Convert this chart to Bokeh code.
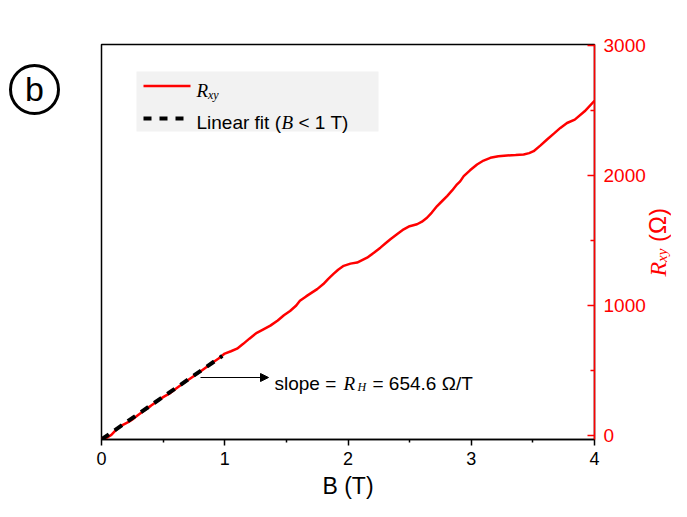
import numpy as np
from bokeh.plotting import figure
from bokeh.layouts import row
from bokeh.models import (Range1d, FixedTicker, Label, Arrow, NormalHead,
                          BoxAnnotation, Div)
from bokeh.embed import file_html
from bokeh.resources import INLINE

# ---------------- data ----------------
B_T = [0.00, 0.04, 0.08, 0.12, 0.17, 0.22, 0.26, 0.30, 0.35, 0.40, 0.45, 0.50,
       0.55, 0.60, 0.65, 0.70, 0.75, 0.80, 0.85, 0.90, 0.95, 1.00, 1.05, 1.10,
       1.15, 1.20, 1.26, 1.31, 1.37, 1.43, 1.48, 1.53, 1.58, 1.61, 1.66, 1.70,
       1.75, 1.80, 1.84, 1.88, 1.92, 1.965, 2.02, 2.074, 2.155, 2.21, 2.263,
       2.30, 2.344, 2.40, 2.452, 2.50, 2.56, 2.60, 2.641, 2.68, 2.723, 2.76,
       2.804, 2.845, 2.885, 2.91, 2.939, 2.99, 3.047, 3.10, 3.155, 3.22, 3.29,
       3.36, 3.425, 3.47, 3.506, 3.56, 3.615, 3.67, 3.723, 3.777, 3.84, 3.92,
       4.00]
R_xy = [-22, -18, 5, 45, 80, 105, 130, 160, 195, 228, 262, 295,
        322, 358, 392, 425, 458, 490, 525, 560, 592, 630, 648, 668,
        705, 745, 790, 815, 845, 885, 925, 958, 1000, 1036, 1070, 1095,
        1126, 1165, 1205, 1241, 1275, 1305, 1322, 1330, 1368, 1405, 1445,
        1475, 1510, 1550, 1586, 1610, 1625, 1645, 1675, 1715, 1765, 1800,
        1842, 1885, 1932, 1955, 1995, 2040, 2085, 2115, 2136, 2148, 2154,
        2158, 2162, 2172, 2187, 2230, 2277, 2322, 2366, 2404, 2430, 2494,
        2575]
fit_B = [0.0, 0.98]
fit_R = [-30, 612]
x_ticks = [0, 1, 2, 3, 4]
x_minor = [0.5, 1.5, 2.5, 3.5]
y_ticks = [0, 1000, 2000, 3000]
y_minor = [500, 1500, 2500]

# ---------------- layout ----------------
W, H = 687, 517
LEFT_DIV = 60
RIGHT_DIV = 36
FL, FR, FT, FB = 101, 594, 44, 439          # frame edges in page pixels
PW = W - LEFT_DIV - RIGHT_DIV                 # figure width
X0, X1 = 0.0, 4.0
Y0, Y1 = -30.8, 3007.7


def dx(px):
    return X0 + (px - FL) * (X1 - X0) / (FR - FL)


def dy(py):
    return Y0 + (FB - py) * (Y1 - Y0) / (FB - FT)


SANS = "Liberation Sans"
SERIF = "Liberation Serif"
RED = "#ff0000"

p = figure(width=PW, height=H, x_range=Range1d(X0, X1), y_range=Range1d(Y0, Y1),
           y_axis_location="right", output_backend="svg", toolbar_location=None,
           min_border_left=FL - LEFT_DIV, min_border_right=PW - (FR - LEFT_DIV),
           min_border_top=FT, min_border_bottom=H - FB)
p.xgrid.visible = False
p.ygrid.visible = False
p.outline_line_color = "black"
p.outline_line_width = 1.5
p.background_fill_color = "white"
p.border_fill_color = "white"

xa = p.xaxis[0]
xa.ticker = FixedTicker(ticks=x_ticks, minor_ticks=x_minor)
xa.axis_line_width = 1.5
xa.axis_line_color = "black"
xa.major_tick_line_color = "black"
xa.minor_tick_line_color = "black"
xa.major_tick_in = 0
xa.major_tick_out = 6
xa.minor_tick_in = 0
xa.minor_tick_out = 3
xa.major_tick_line_width = 1.5
xa.minor_tick_line_width = 1.5
xa.major_label_text_font = SANS
xa.major_label_text_font_size = "18px"
xa.major_label_text_color = "black"
xa.major_label_standoff = 6
xa.axis_label = "B (T)"
xa.axis_label_text_font = SANS
xa.axis_label_text_font_size = "23px"
xa.axis_label_text_font_style = "normal"
xa.axis_label_text_color = "black"
xa.axis_label_standoff = 5

ya = p.yaxis[0]
ya.ticker = FixedTicker(ticks=y_ticks, minor_ticks=y_minor)
ya.axis_line_color = RED
ya.axis_line_width = 1.5
ya.major_tick_line_color = RED
ya.minor_tick_line_color = RED
ya.major_tick_line_width = 1.5
ya.minor_tick_line_width = 1.5
ya.major_tick_in = 7
ya.major_tick_out = 0
ya.minor_tick_in = 4
ya.minor_tick_out = 0
ya.major_label_text_color = RED
ya.major_label_text_font = SANS
ya.major_label_text_font_size = "19px"
ya.major_label_standoff = 9

# ---------------- data lines ----------------
p.line(B_T, R_xy, line_color=RED, line_width=2.5)
p.line(fit_B, fit_R, line_color="black", line_width=4, line_dash="9 7",
       line_cap="butt")

# ---------------- legend (manual) ----------------
p.add_layout(BoxAnnotation(left=dx(136), right=dx(378), top=dy(71), bottom=dy(131),
                           fill_color="#f2f2f2", fill_alpha=1.0, line_color=None,
                           level="underlay"))
p.line([dx(143), dx(190)], [dy(85.5), dy(85.5)], line_color=RED, line_width=2.5)
p.line([dx(143), dx(190)], [dy(118), dy(118)], line_color="black", line_width=4,
       line_dash="8 8", line_cap="butt")


def lab(px, py, text, font=SANS, size="19px", style="normal", color="black",
        align="left", baseline="alphabetic", angle=0.0):
    p.add_layout(Label(x=dx(px), y=dy(py), text=text, text_font=font,
                       text_font_size=size, text_font_style=style,
                       text_color=color, text_align=align,
                       text_baseline=baseline, angle=angle))


lab(196, 90, "R", font=SERIF, style="italic")
lab(207.5, 94, "xy", font=SERIF, style="italic", size="12px")
lab(196, 121.5, "Linear fit (")
lab(281, 121.5, "B", font=SERIF, style="italic")
lab(298, 121.5, "< 1 T)")

# ---------------- slope annotation ----------------
p.add_layout(Arrow(end=NormalHead(size=8, fill_color="black", line_color="black"),
                   x_start=dx(200), y_start=dy(377), x_end=dx(268), y_end=dy(377),
                   line_color="black", line_width=1))
lab(274, 383, "slope =")
lab(343, 383, "R", font=SERIF, style="italic")
lab(357, 386, "H", font=SERIF, style="italic", size="12px")
lab(372, 383, "= 654.6 Ω/T")

# ---------------- panel marker (left) ----------------
left_html = (
    '<div style="box-sizing:content-box;margin-top:64px;margin-left:9px;'
    'width:45px;height:45px;border:3px solid #000;border-radius:50%;'
    "text-align:center;font-family:'Liberation Sans';font-size:34px;"
    'line-height:45px;color:#000;">b</div>'
)
left_div = Div(text=left_html, width=LEFT_DIV, height=H, margin=(0, 0, 0, 0))

# ---------------- right axis title (rich text) ----------------
right_html = (
    '<div style="box-sizing:content-box;margin-top:208px;margin-left:0px;'
    'width:14px;writing-mode:vertical-rl;transform:rotate(180deg);'
    "white-space:nowrap;color:#ff0000;font-family:'Liberation Sans';"
    'font-size:24px;line-height:14px;">'
    "<span style=\"font-family:'Liberation Serif';font-style:italic;\">R</span>"
    "<span style=\"font-family:'Liberation Serif';font-style:italic;font-size:15px;"
    'vertical-align:-4px;">xy</span>&nbsp;(Ω)</div>'
)
right_div = Div(text=right_html, width=RIGHT_DIV, height=H, margin=(0, 0, 0, 0))

layout = row(left_div, p, right_div, spacing=0)
open("out.html", "w").write(file_html(layout, INLINE))
